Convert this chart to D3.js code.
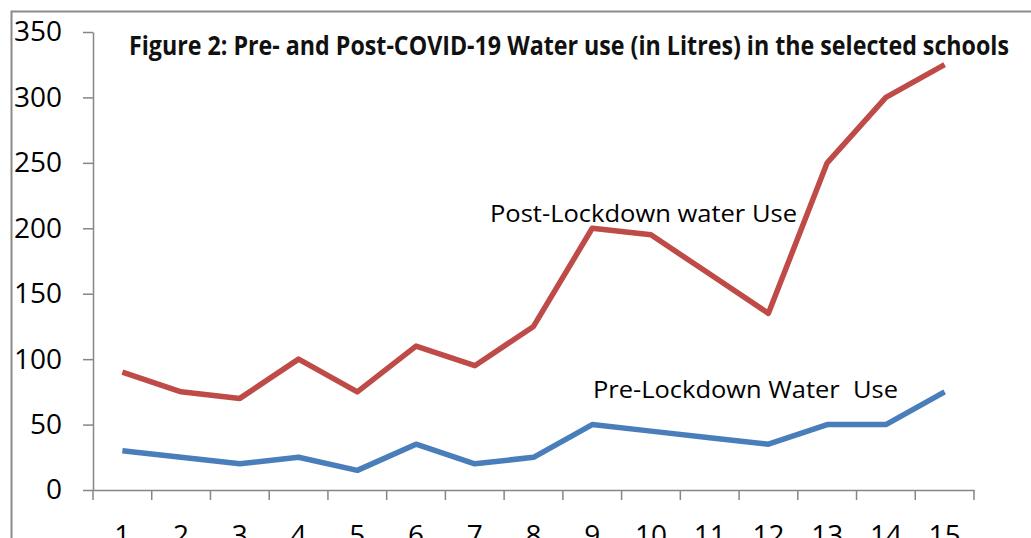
<!DOCTYPE html>
<html>
<head>
<meta charset="utf-8">
<script src="https://cdn.jsdelivr.net/npm/d3@7"></script>
<style>
  body { margin: 0; background: #fff; }
  svg { display: block; }
</style>
</head>
<body>
<div id="chart"></div>
<script>
// data
const schools = ['1', '2', '3', '4', '5', '6', '7', '8', '9', '10', '11', '12', '13', '14', '15']
const postLockdown = [90, 75, 70, 100, 75, 110, 95, 125, 200, 195, 165, 135, 250, 300, 325]
const preLockdown = [30, 25, 20, 25, 15, 35, 20, 25, 50, 45, 40, 35, 50, 50, 75]
const yTicks = [0, 50, 100, 150, 200, 250, 300, 350]
const titleText = 'Figure 2: Pre- and Post-COVID-19 Water use (in Litres) in the selected schools'

const dimensions = {
  width: 1031,
  height: 538,
  margins: { left: 93, right: 57, top: 32, bottom: 48 },
}

const ctrW = dimensions.width - dimensions.margins.left - dimensions.margins.right
const ctrH = dimensions.height - dimensions.margins.top - dimensions.margins.bottom

// scales
const xScale = d3.scaleBand().domain(schools).range([0, ctrW])
const yScale = d3.scaleLinear().domain([0, 350]).range([ctrH, 0])

const svg = d3
  .select('#chart')
  .append('svg')
  .attr('width', dimensions.width)
  .attr('height', dimensions.height)

// outer frame
svg
  .append('rect')
  .attr('x', 11.5)
  .attr('y', 11.5)
  .attr('width', 1040)
  .attr('height', 600)
  .attr('fill', 'none')
  .attr('stroke', '#8a8a8a')
  .attr('stroke-width', 2)

const ctr = svg
  .append('g')
  .attr('transform', `translate(${dimensions.margins.left}, ${dimensions.margins.top})`)

// axes
const yAxis = d3.axisLeft(yScale).tickValues(yTicks).tickSize(10).tickSizeOuter(0).tickPadding(21)
const yAxisGroup = ctr.append('g').call(yAxis)
yAxisGroup.selectAll('path, line').attr('stroke', '#868686').attr('stroke-width', 1.5)
yAxisGroup
  .selectAll('text')
  .style('font-family', '"Open Sans", sans-serif')
  .style('font-size', '28px')
  .attr('fill', '#000')

const xAxis = d3.axisBottom(xScale).tickSize(0).tickPadding(35)
const xAxisGroup = ctr.append('g').attr('transform', `translate(0, ${ctrH})`).call(xAxis)
xAxisGroup.select('.domain').attr('stroke', '#868686').attr('stroke-width', 1.5)
xAxisGroup
  .selectAll('text')
  .style('font-family', '"Open Sans", sans-serif')
  .style('font-size', '28px')
  .attr('fill', '#000')

// category boundary ticks
const bounds = schools.map((d) => xScale(d)).concat([ctrW])
ctr
  .append('g')
  .selectAll('line')
  .data(bounds)
  .join('line')
  .attr('x1', (d) => d)
  .attr('x2', (d) => d)
  .attr('y1', ctrH)
  .attr('y2', ctrH + 10)
  .attr('stroke', '#868686')
  .attr('stroke-width', 1.5)

// lines
const line = d3
  .line()
  .x((d, i) => xScale(schools[i]) + xScale.bandwidth() / 2)
  .y((d) => yScale(d))

ctr
  .append('path')
  .datum(preLockdown)
  .attr('d', line)
  .attr('fill', 'none')
  .attr('stroke', '#4A7EBB')
  .attr('stroke-width', 5.5)
  .attr('stroke-linejoin', 'round')

ctr
  .append('path')
  .datum(postLockdown)
  .attr('d', line)
  .attr('fill', 'none')
  .attr('stroke', '#BE4B48')
  .attr('stroke-width', 5.5)
  .attr('stroke-linejoin', 'round')

// title
svg
  .append('text')
  .attr('x', 129)
  .attr('y', 55)
  .attr('textLength', 880)
  .attr('lengthAdjust', 'spacingAndGlyphs')
  .style('font-family', '"Liberation Sans Narrow", "Open Sans", sans-serif')
  .style('font-weight', 'bold')
  .style('font-size', '27px')
  .attr('fill', '#111')
  .text(titleText)

// annotations
svg
  .append('text')
  .attr('x', 490)
  .attr('y', 222)
  .attr('textLength', 307)
  .attr('lengthAdjust', 'spacingAndGlyphs')
  .style('font-family', '"Open Sans", sans-serif')
  .style('font-size', '24px')
  .attr('fill', '#000')
  .text('Post-Lockdown water Use')

svg
  .append('text')
  .attr('x', 593)
  .attr('y', 398)
  .attr('textLength', 305)
  .attr('lengthAdjust', 'spacingAndGlyphs')
  .style('font-family', '"Open Sans", sans-serif')
  .style('font-size', '24px')
  .style('white-space', 'pre')
  .attr('fill', '#000')
  .text('Pre-Lockdown Water  Use')
</script>
</body>
</html>
